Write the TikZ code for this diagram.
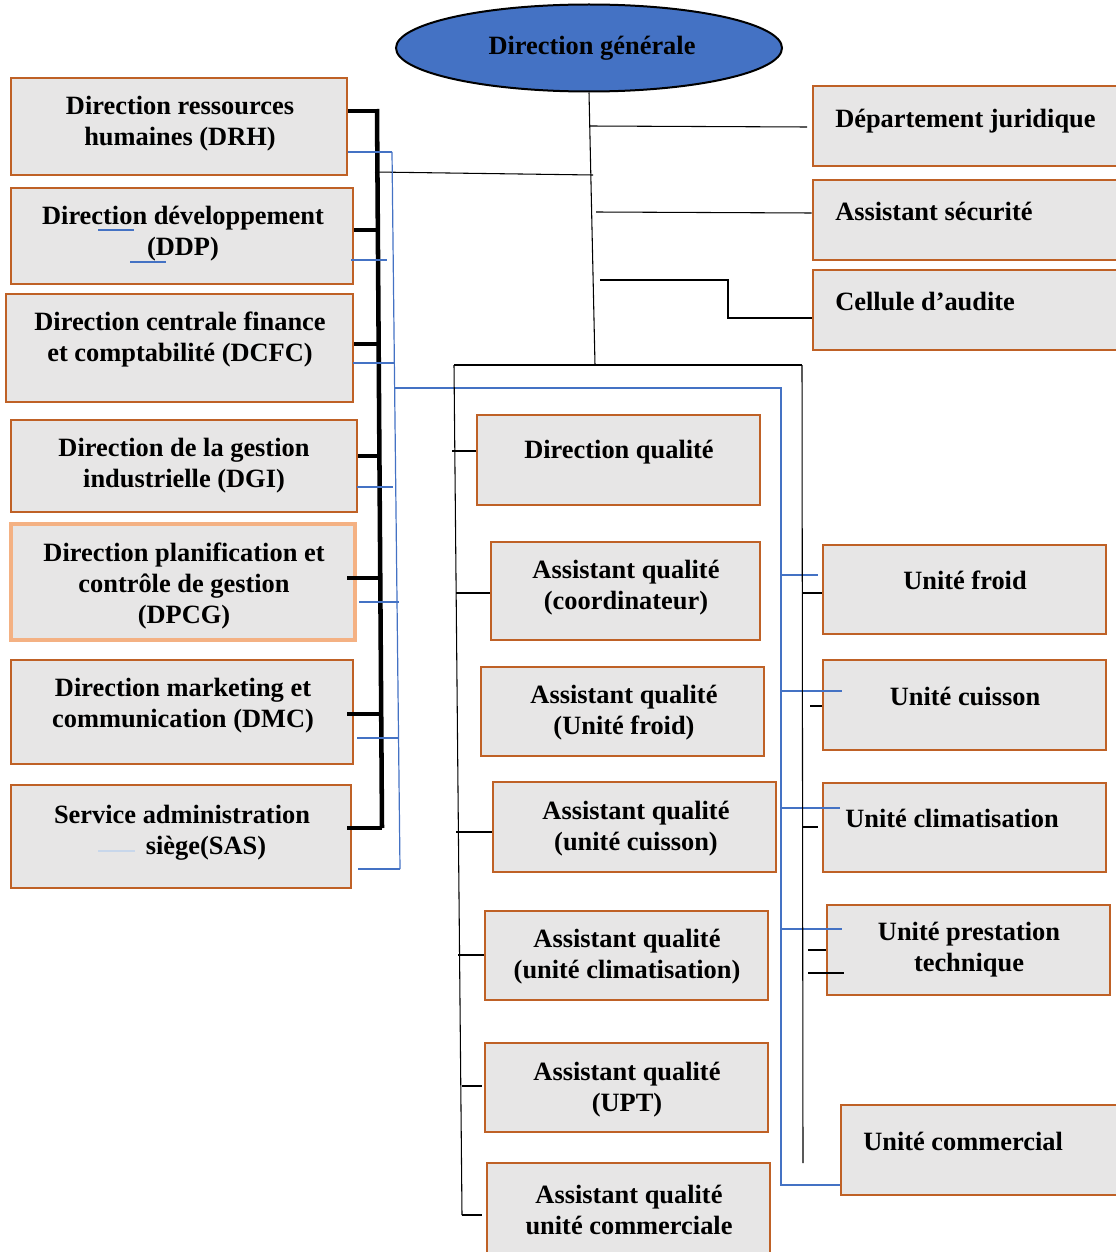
\documentclass[tikz,border=0pt]{standalone}
\usepackage{fontspec}
\setmainfont{Liberation Serif}
\usetikzlibrary{shapes.geometric}

\definecolor{boxedge}{RGB}{191,97,38}
\definecolor{boxfill}{RGB}{231,230,230}
\definecolor{peach}{RGB}{244,177,131}
\definecolor{dgblue}{RGB}{68,114,196}
\definecolor{paleblue}{RGB}{200,215,235}

% box from its corners (x1,y1)-(x2,y2), measured in drawing units
\newcommand\orgbox[6][]{%
  \node[box,#1,minimum width={(#5-#3)*0.75pt},minimum height={(#6-#4)*0.75pt}]
    (#2) at ({(#3+#5)/2},{(#4+#6)/2}) {};}

\tikzset{
  box/.style={draw=boxedge,line width=2.2pt,fill=boxfill,rectangle,inner sep=0pt},
  peachbox/.style={draw=peach,line width=3pt},
  lbl/.style={font=\fontsize{19.8}{23.25}\selectfont\bfseries,align=center,inner sep=0pt},
  lblw/.style={lbl,anchor=west,align=left},
  bus/.style={line width=3.4pt,black},
  stub/.style={line width=2.6pt,black},
  thinline/.style={line width=0.8pt,black},
  blueline/.style={line width=0.9pt,dgblue},
  mark blue/.style={line width=0.8pt,dgblue},
}

\begin{document}
\begin{tikzpicture}[x=0.75pt,y=-0.75pt]
\useasboundingbox (0,0) rectangle (1116,1252);

% ---- head ----
\node[ellipse,draw=black,line width=1.5pt,fill=dgblue,
      minimum width={386*0.75pt},minimum height={87*0.75pt},inner sep=0pt]
  (dg) at (589,48) {};
\node[lbl] (dg-t) at (592,48) {Direction générale};

% ---- left column ----
\orgbox{drh}{11}{78}{347}{175}
\orgbox{ddp}{11}{188}{353}{284}
\orgbox{dcfc}{6}{294}{353}{402}
\orgbox{dgi}{11}{420}{357}{512}
\orgbox[peachbox]{dpcg}{11}{524}{355}{640}
\orgbox{dmc}{11}{660}{353}{764}
\orgbox{sas}{11}{785}{351}{888}

\node[lbl] (drh-t)  at (180,124) {Direction ressources\\humaines (DRH)};
\node[lbl] (ddp-t)  at (183,234) {Direction développement\\(DDP)};
\node[lbl] (dcfc-t) at (180,340) {Direction centrale finance\\et comptabilité (DCFC)};
\node[lbl] (dgi-t)  at (184,466) {Direction de la gestion\\industrielle (DGI)};
\node[lbl] (dpcg-t) at (184,586) {Direction planification et\\contrôle de gestion\\(DPCG)};
\node[lbl] (dmc-t)  at (183,706) {Direction marketing et\\communication (DMC)};
\node[lbl] (sas-t)  at (182,833) {Service administration\\\hspace*{36pt}siège(SAS)};

% stray marks in the left labels
\draw[mark blue] (98,230) -- (134,230);
\draw[mark blue] (130,262) -- (166,262);
\draw[paleblue,line width=1.6pt] (98,851) -- (135,851);

% ---- right column, top ----
\orgbox{dj}{813}{86}{1120}{166}
\orgbox{asec}{813}{180}{1120}{260}
\orgbox{caud}{813}{270}{1120}{350}
\node[lblw] (dj-t)   at (835,121) {Département juridique};
\node[lblw] (asec-t) at (835,211) {Assistant sécurité};
\node[lblw] (caud-t) at (835,302) {Cellule d’audite};

% ---- quality column ----
\orgbox{dq}{477}{415}{760}{505}
\orgbox{aqc}{491}{542}{760}{640}
\orgbox{aqf}{481}{667}{764}{756}
\orgbox{aqcu}{493}{782}{776}{872}
\orgbox{aqcl}{485}{911}{768}{1000}
\orgbox{aqupt}{485}{1043}{768}{1132}
\orgbox{aqcom}{487}{1163}{770}{1262}

\node[lbl] (dq-t)    at (619,452)  {Direction qualité};
\node[lbl] (aqc-t)   at (626,588)  {Assistant qualité\\(coordinateur)};
\node[lbl] (aqf-t)   at (624,713)  {Assistant qualité\\(Unité froid)};
\node[lbl] (aqcu-t)  at (636,829)  {Assistant qualité\\(unité cuisson)};
\node[lbl] (aqcl-t)  at (627,957)  {Assistant qualité\\(unité climatisation)};
\node[lbl] (aqupt-t) at (627,1090) {Assistant qualité\\(UPT)};
\node[lbl] (aqcom-t) at (629,1210) {Assistant qualité\\unité commerciale};

% ---- units column ----
\orgbox{uf}{823}{545}{1106}{634}
\orgbox{ucu}{823}{660}{1106}{750}
\orgbox{ucl}{823}{783}{1106}{872}
\orgbox{upt}{827}{905}{1110}{995}
\orgbox{ucom}{841}{1105}{1120}{1195}

\node[lbl]  (uf-t)   at (965,580)  {Unité froid};
\node[lbl]  (ucu-t)  at (965,696)  {Unité cuisson};
\node[lbl]  (ucl-t)  at (952,818)  {Unité climatisation};
\node[lbl]  (upt-t)  at (969,950)  {Unité prestation\\technique};
\node[lblw] (ucom-t) at (863,1141) {Unité commercial};

% ---- junction points ----
\coordinate (trunkEnd) at (595,365);
\coordinate (busTop) at (377,109);
\coordinate (busEnd) at (382,828);
\coordinate (qL) at (454,365);
\coordinate (qLend) at (462,1215);
\coordinate (qR) at (802,365);
\coordinate (qRend) at (803,1163);
\coordinate (bTop) at (392,152);
\coordinate (bBot) at (400,869);
\coordinate (bCorner) at (781,388);
\coordinate (bEnd) at (781,1185);

% ---- main trunk and its branches ----
\draw[thinline] (dg.south) -- (trunkEnd);
\draw[thinline] (590,126) -- (807,127);
\draw[thinline] (375,172) -- (593,175);
\draw[thinline] (596,212) -- (asec.west |- 0,213);
\draw[thinline] (600,280) -- (728,280) -- (728,318) -- (caud.west |- 0,318);
\draw[thinline] (qL) -- (qR);

% ---- thick bus of the left column ----
\draw[bus] (busTop) -- (busEnd);
\draw[stub] (drh.east |- 0,111) -- (378,111);
\draw[stub] (ddp.east |- 0,230) -- (378,230);
\draw[stub] (dcfc.east |- 0,344) -- (379,344);
\draw[stub] (dgi.east |- 0,456) -- (380,456);
\draw[stub] (347,578) -- (380,578);
\draw[stub] (347,714) -- (381,714);
\draw[stub] (347,828) -- (busEnd);

% ---- blue link of the left column ----
\draw[blueline] (bTop) -- (bBot);
\draw[blueline] (drh.east |- bTop) -- (bTop);
\draw[blueline] (351,260) -- (387,260);
\draw[blueline] (353,363) -- (395,363);
\draw[blueline] (357,487) -- (393,487);
\draw[blueline] (359,602) -- (399,602);
\draw[blueline] (357,738) -- (399,738);
\draw[blueline] (358,869) -- (bBot);
\draw[blueline] (395,388) -- (bCorner) -- (bEnd) -- (ucom.west |- bEnd);
\draw[blueline] (781,575) -- (818,575);
\draw[blueline] (781,691) -- (842,691);
\draw[blueline] (781,808) -- (840,808);
\draw[blueline] (781,929) -- (842,929);

% ---- quality column spine ----
\draw[thinline] (qL) -- (qLend);
\draw[thinline] (452,451) -- (dq.west |- 0,451);
\draw[thinline] (456,593) -- (aqc.west |- 0,593);
\draw[thinline] (456,832) -- (492,832);
\draw[thinline] (458,955) -- (aqcl.west |- 0,955);
\draw[thinline] (462,1086) -- (482,1086);
\draw[thinline] (qLend) -- (482,1215);

% ---- units column spine ----
\draw[thinline] (qR) -- (qRend);
\draw[thinline] (802,593) -- (uf.west |- 0,593);
\draw[thinline] (810,706) -- (ucu.west |- 0,706);
\draw[thinline] (802,827) -- (818,827);
\draw[thinline] (808,950) -- (upt.west |- 0,950);
\draw[thinline] (808,973) -- (844,973);
\end{tikzpicture}
\end{document}
